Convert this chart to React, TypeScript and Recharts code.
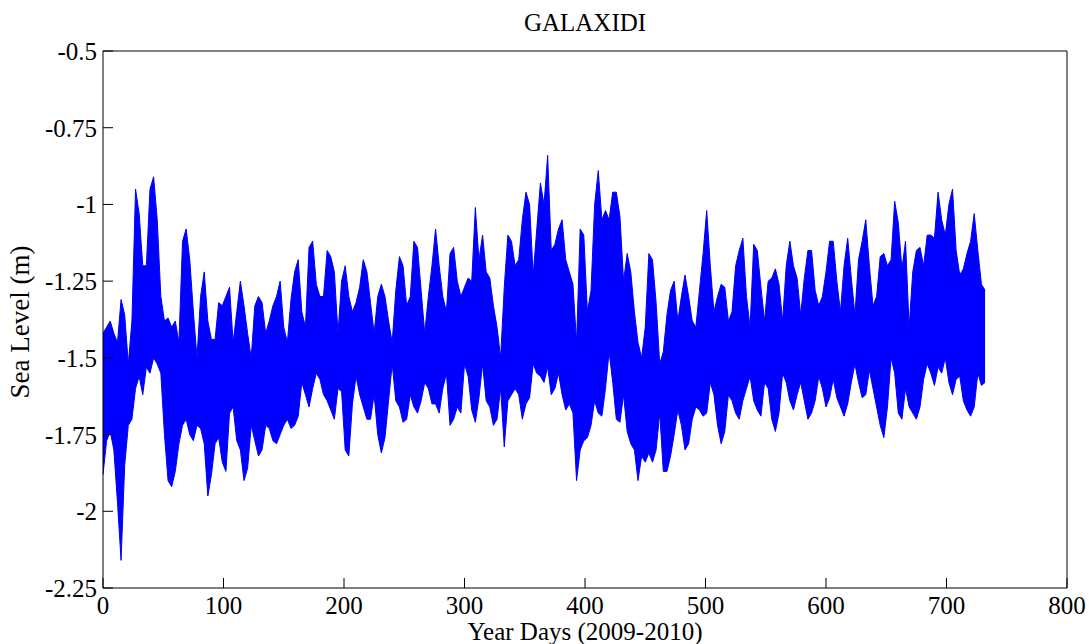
import { Area, ComposedChart, Line, XAxis, YAxis } from "recharts";

// sampled every 3 days, upper / lower envelope of the hourly record (m)
const STEP = 3;

const upper = [
  -1.42, -1.40, -1.38, -1.42, -1.45, -1.31, -1.36, -1.52, -1.38, -0.95,
  -1.03, -1.20, -1.20, -0.95, -0.91, -1.05, -1.30, -1.38, -1.37, -1.40,
  -1.38, -1.45, -1.12, -1.08, -1.18, -1.35, -1.50, -1.30, -1.22, -1.38,
  -1.44,
  -1.44, -1.32, -1.33, -1.30, -1.27, -1.45, -1.35, -1.25, -1.33, -1.42,
  -1.50, -1.33, -1.30, -1.32, -1.42, -1.38, -1.33, -1.30, -1.25, -1.40,
  -1.45, -1.31, -1.22, -1.18, -1.35, -1.40, -1.14, -1.12, -1.26, -1.30,
  -1.30, -1.15, -1.17, -1.22, -1.42, -1.25, -1.20, -1.30, -1.35, -1.32,
  -1.27, -1.18, -1.22, -1.32, -1.42, -1.30, -1.26, -1.30, -1.38, -1.45,
  -1.28, -1.17, -1.20, -1.33, -1.30, -1.12, -1.14, -1.28, -1.42, -1.30,
  -1.20,
  -1.08, -1.20, -1.30, -1.35, -1.16, -1.14, -1.25, -1.30, -1.27, -1.24,
  -1.25, -1.01, -1.18, -1.10, -1.22, -1.24, -1.33, -1.40, -1.50, -1.27,
  -1.10, -1.12, -1.20, -1.18, -1.05, -0.96, -1.00, -1.23, -1.08, -0.93,
  -1.00,
  -0.84, -1.15, -1.13, -1.08, -1.05, -1.18, -1.22, -1.26, -1.45, -1.08,
  -1.10, -1.35, -1.28, -1.00, -0.89, -1.05, -1.02, -1.05, -0.96, -0.96,
  -1.04, -1.25, -1.16, -1.22, -1.35, -1.45, -1.50, -1.40, -1.16, -1.18,
  -1.32, -1.52, -1.48, -1.36, -1.28, -1.25, -1.38, -1.30, -1.23, -1.30,
  -1.38, -1.40, -1.28, -1.16, -1.02, -1.20, -1.35, -1.30, -1.26, -1.27,
  -1.38, -1.35, -1.20, -1.15, -1.11, -1.30, -1.40, -1.13, -1.15, -1.27,
  -1.38, -1.25, -1.24, -1.21, -1.26, -1.38, -1.20, -1.12, -1.20, -1.24,
  -1.36, -1.24, -1.15, -1.15, -1.28, -1.33, -1.30, -1.22, -1.12, -1.12,
  -1.25, -1.35, -1.20, -1.11, -1.24, -1.36, -1.18, -1.12, -1.05, -1.20,
  -1.33, -1.30, -1.17, -1.16, -1.20, -1.18, -0.99, -1.06, -1.21, -1.12,
  -1.40, -1.22, -1.15, -1.14, -1.20, -1.10, -1.10, -1.11, -0.96, -1.05,
  -1.10, -1.00, -0.95, -1.15, -1.23, -1.21, -1.16, -1.12, -1.03, -1.15,
  -1.26, -1.28,
];

const lower = [
  -1.88, -1.77, -1.74, -1.80, -1.97, -2.16, -1.85, -1.72, -1.70, -1.60,
  -1.56, -1.62, -1.53, -1.55, -1.50, -1.52, -1.55, -1.75, -1.90, -1.92,
  -1.87, -1.78, -1.72, -1.70, -1.75, -1.77, -1.72, -1.73, -1.78, -1.95,
  -1.88,
  -1.78, -1.76, -1.84, -1.87, -1.68, -1.66, -1.77, -1.80, -1.90, -1.86,
  -1.72, -1.77, -1.82, -1.80, -1.72, -1.73, -1.77, -1.78, -1.75, -1.72,
  -1.70, -1.73, -1.72, -1.69, -1.58, -1.62, -1.66, -1.60, -1.55, -1.57,
  -1.62, -1.64, -1.67, -1.70, -1.60, -1.61, -1.80, -1.82, -1.65, -1.56,
  -1.62, -1.66, -1.70, -1.70, -1.62, -1.75, -1.81, -1.76, -1.64, -1.52,
  -1.64, -1.66, -1.71, -1.70, -1.62, -1.66, -1.68, -1.64, -1.58, -1.60,
  -1.65,
  -1.65, -1.68, -1.60, -1.55, -1.72, -1.70, -1.66, -1.68, -1.52, -1.56,
  -1.67, -1.71, -1.63, -1.52, -1.64, -1.66, -1.72, -1.70, -1.60, -1.79,
  -1.64, -1.62, -1.60, -1.62, -1.70, -1.65, -1.63, -1.52, -1.55, -1.56,
  -1.58,
  -1.53, -1.62, -1.60, -1.55, -1.62, -1.67, -1.65, -1.68, -1.90, -1.80,
  -1.77, -1.76, -1.72, -1.64, -1.68, -1.69, -1.60, -1.48, -1.58, -1.70,
  -1.71, -1.62, -1.74, -1.78, -1.80, -1.90, -1.82, -1.84, -1.81, -1.84,
  -1.80, -1.68, -1.87, -1.87, -1.82, -1.75, -1.67, -1.72, -1.80, -1.78,
  -1.70, -1.66, -1.67, -1.69, -1.68, -1.58, -1.62, -1.72, -1.78, -1.74,
  -1.62, -1.64, -1.68, -1.70, -1.64, -1.60, -1.56, -1.64, -1.67, -1.69,
  -1.58, -1.60, -1.70, -1.74, -1.68, -1.55, -1.58, -1.64, -1.67, -1.62,
  -1.58, -1.64, -1.70, -1.68, -1.64, -1.56, -1.60, -1.66, -1.63, -1.57,
  -1.63, -1.66, -1.69, -1.65, -1.58, -1.52, -1.58, -1.63, -1.62, -1.54,
  -1.60, -1.66, -1.72, -1.76, -1.66, -1.50, -1.55, -1.68, -1.70, -1.60,
  -1.66, -1.68, -1.70, -1.66, -1.57, -1.52, -1.55, -1.59, -1.53, -1.55,
  -1.50, -1.58, -1.62, -1.57, -1.56, -1.64, -1.67, -1.69, -1.66, -1.55,
  -1.59, -1.58,
];

const xTicks = [0, 100, 200, 300, 400, 500, 600, 700, 800];
const yTicks = [-2.25, -2, -1.75, -1.5, -1.25, -1, -0.75, -0.5];

const rows = upper.map((hi, i) => ({ day: i * STEP, hi, level: [lower[i], hi] }));

const font = "'Liberation Serif', 'Times New Roman', serif";
const textStyle = { fontFamily: font, fontSize: 25 };

function BottomTick(props: any) {
  const { x, y, payload } = props;
  return (
    <text x={x} y={y} dy={18} textAnchor="middle" fill="#000" style={textStyle}>
      {payload.value}
    </text>
  );
}

function LeftTick(props: any) {
  const { x, y, payload } = props;
  return (
    <text x={x} y={y} dy={9} textAnchor="end" fill="#000" style={textStyle}>
      {payload.value}
    </text>
  );
}

export default function App() {
  return (
    <div
      style={{
        position: "absolute",
        left: 0,
        top: 0,
        width: 1089,
        height: 644,
        background: "#fff",
        fontFamily: font,
      }}
    >
      <ComposedChart
        width={1089}
        height={644}
        data={rows}
        margin={{ top: 50, right: 21, bottom: 26, left: 43 }}
      >
        <XAxis
          dataKey="day"
          type="number"
          domain={[0, 800]}
          ticks={xTicks}
          height={30}
          tickSize={-10}
          tickMargin={18}
          stroke="#000"
          tick={BottomTick}
          interval={0}
        />
        <XAxis
          xAxisId="top"
          dataKey="day"
          orientation="top"
          type="number"
          domain={[0, 800]}
          ticks={xTicks}
          height={1}
          tickSize={-10}
          tick={false}
          stroke="#000"
          interval={0}
        />
        <YAxis
          type="number"
          domain={[-2.25, -0.5]}
          ticks={yTicks}
          width={60}
          tickSize={-10}
          tickMargin={16}
          stroke="#000"
          tick={LeftTick}
          interval={0}
        />
        <YAxis
          yAxisId="right"
          orientation="right"
          type="number"
          domain={[-2.25, -0.5]}
          ticks={yTicks}
          width={1}
          tickSize={-10}
          tick={false}
          stroke="#000"
          interval={0}
        />
        <Area
          dataKey="level"
          type="linear"
          stroke="#0000ff"
          strokeWidth={1}
          fill="#0000ff"
          fillOpacity={1}
          isAnimationActive={false}
          dot={false}
          activeDot={false}
        />
        {/* invisible series so the framing axes on top and right get drawn */}
        <Line
          xAxisId="top"
          yAxisId="right"
          dataKey="hi"
          stroke="none"
          dot={false}
          activeDot={false}
          isAnimationActive={false}
        />
      </ComposedChart>
      <svg
        width={1089}
        height={644}
        style={{ position: "absolute", left: 0, top: 0, pointerEvents: "none" }}
      >
        <text x={585} y={31} textAnchor="middle" style={textStyle}>
          GALAXIDI
        </text>
        <text x={585} y={640} textAnchor="middle" style={textStyle}>
          Year Days (2009-2010)
        </text>
        <text
          x={29}
          y={322}
          textAnchor="middle"
          style={{ fontFamily: font, fontSize: 27 }}
          transform="rotate(-90 29 322)"
        >
          Sea Level (m)
        </text>
      </svg>
    </div>
  );
}
